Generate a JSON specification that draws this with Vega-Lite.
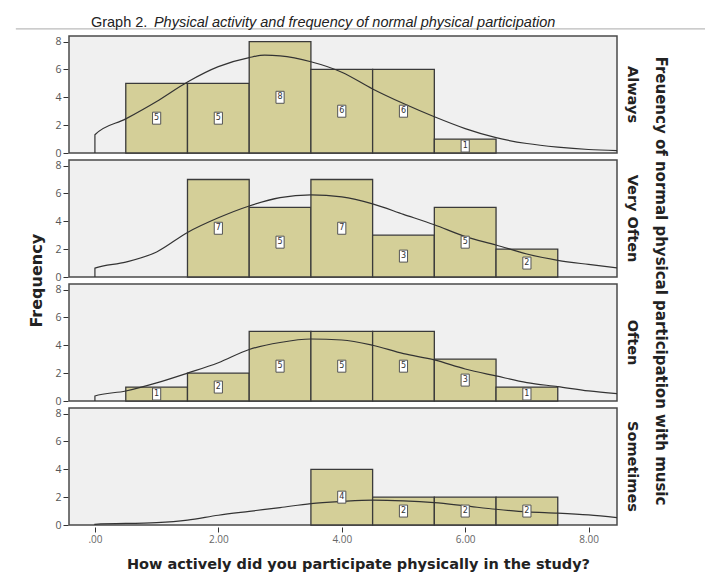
{
  "$schema": "https://vega.github.io/schema/vega-lite/v6.json",
  "background": "white",
  "padding": {"left": 15, "top": 5, "right": 5, "bottom": 5},
  "title": {"text": "Frequency", "orient": "left", "anchor": "middle", "font": "DejaVu Sans", "fontSize": 16, "fontWeight": "bold", "color": "#222", "offset": -30, "dx": 7},
  "config": {
    "view": {"fill": "#F0F0F0", "stroke": "#4a4a4a", "strokeWidth": 1.5},
    "font": "Open Sans",
    "axisY": {"tickCount": 5, "labelOverlap": false}
  },
  "spacing": 4,
  "datasets": {
    "main": [
      {"panel": "Always", "kind": "bar", "x": 1, "lo": 0.5, "hi": 1.5, "count": 5},
      {"panel": "Always", "kind": "bar", "x": 2, "lo": 1.5, "hi": 2.5, "count": 5},
      {"panel": "Always", "kind": "bar", "x": 3, "lo": 2.5, "hi": 3.5, "count": 8},
      {"panel": "Always", "kind": "bar", "x": 4, "lo": 3.5, "hi": 4.5, "count": 6},
      {"panel": "Always", "kind": "bar", "x": 5, "lo": 4.5, "hi": 5.5, "count": 6},
      {"panel": "Always", "kind": "bar", "x": 6, "lo": 5.5, "hi": 6.5, "count": 1},
      {"panel": "Very Often", "kind": "bar", "x": 2, "lo": 1.5, "hi": 2.5, "count": 7},
      {"panel": "Very Often", "kind": "bar", "x": 3, "lo": 2.5, "hi": 3.5, "count": 5},
      {"panel": "Very Often", "kind": "bar", "x": 4, "lo": 3.5, "hi": 4.5, "count": 7},
      {"panel": "Very Often", "kind": "bar", "x": 5, "lo": 4.5, "hi": 5.5, "count": 3},
      {"panel": "Very Often", "kind": "bar", "x": 6, "lo": 5.5, "hi": 6.5, "count": 5},
      {"panel": "Very Often", "kind": "bar", "x": 7, "lo": 6.5, "hi": 7.5, "count": 2},
      {"panel": "Often", "kind": "bar", "x": 1, "lo": 0.5, "hi": 1.5, "count": 1},
      {"panel": "Often", "kind": "bar", "x": 2, "lo": 1.5, "hi": 2.5, "count": 2},
      {"panel": "Often", "kind": "bar", "x": 3, "lo": 2.5, "hi": 3.5, "count": 5},
      {"panel": "Often", "kind": "bar", "x": 4, "lo": 3.5, "hi": 4.5, "count": 5},
      {"panel": "Often", "kind": "bar", "x": 5, "lo": 4.5, "hi": 5.5, "count": 5},
      {"panel": "Often", "kind": "bar", "x": 6, "lo": 5.5, "hi": 6.5, "count": 3},
      {"panel": "Often", "kind": "bar", "x": 7, "lo": 6.5, "hi": 7.5, "count": 1},
      {"panel": "Sometimes", "kind": "bar", "x": 4, "lo": 3.5, "hi": 4.5, "count": 4},
      {"panel": "Sometimes", "kind": "bar", "x": 5, "lo": 4.5, "hi": 5.5, "count": 2},
      {"panel": "Sometimes", "kind": "bar", "x": 6, "lo": 5.5, "hi": 6.5, "count": 2},
      {"panel": "Sometimes", "kind": "bar", "x": 7, "lo": 6.5, "hi": 7.5, "count": 2},

      {"panel": "Always", "kind": "curve", "x": 0, "y": 0},
      {"panel": "Always", "kind": "curve", "x": 0, "y": 1.31},
      {"panel": "Always", "kind": "curve", "x": 0.5, "y": 2.45},
      {"panel": "Always", "kind": "curve", "x": 1, "y": 3.7},
      {"panel": "Always", "kind": "curve", "x": 1.5, "y": 5.1},
      {"panel": "Always", "kind": "curve", "x": 2, "y": 6.2},
      {"panel": "Always", "kind": "curve", "x": 2.5, "y": 6.85},
      {"panel": "Always", "kind": "curve", "x": 2.75, "y": 7.02},
      {"panel": "Always", "kind": "curve", "x": 3, "y": 6.97},
      {"panel": "Always", "kind": "curve", "x": 3.5, "y": 6.55},
      {"panel": "Always", "kind": "curve", "x": 4, "y": 5.8},
      {"panel": "Always", "kind": "curve", "x": 4.5, "y": 4.6},
      {"panel": "Always", "kind": "curve", "x": 5, "y": 3.55},
      {"panel": "Always", "kind": "curve", "x": 5.5, "y": 2.6},
      {"panel": "Always", "kind": "curve", "x": 6, "y": 1.75},
      {"panel": "Always", "kind": "curve", "x": 6.5, "y": 1.1},
      {"panel": "Always", "kind": "curve", "x": 7, "y": 0.68},
      {"panel": "Always", "kind": "curve", "x": 7.5, "y": 0.42},
      {"panel": "Always", "kind": "curve", "x": 8, "y": 0.25},
      {"panel": "Always", "kind": "curve", "x": 8.46, "y": 0.17},

      {"panel": "Very Often", "kind": "curve", "x": 0, "y": 0},
      {"panel": "Very Often", "kind": "curve", "x": 0, "y": 0.64},
      {"panel": "Very Often", "kind": "curve", "x": 0.5, "y": 1.07},
      {"panel": "Very Often", "kind": "curve", "x": 1, "y": 1.8},
      {"panel": "Very Often", "kind": "curve", "x": 1.5, "y": 3.2},
      {"panel": "Very Often", "kind": "curve", "x": 2, "y": 4.25},
      {"panel": "Very Often", "kind": "curve", "x": 2.5, "y": 5.1},
      {"panel": "Very Often", "kind": "curve", "x": 3, "y": 5.7},
      {"panel": "Very Often", "kind": "curve", "x": 3.5, "y": 5.9},
      {"panel": "Very Often", "kind": "curve", "x": 4, "y": 5.75},
      {"panel": "Very Often", "kind": "curve", "x": 4.5, "y": 5.25},
      {"panel": "Very Often", "kind": "curve", "x": 5, "y": 4.5},
      {"panel": "Very Often", "kind": "curve", "x": 5.5, "y": 3.75},
      {"panel": "Very Often", "kind": "curve", "x": 6, "y": 2.9},
      {"panel": "Very Often", "kind": "curve", "x": 6.5, "y": 2.3},
      {"panel": "Very Often", "kind": "curve", "x": 7, "y": 1.65},
      {"panel": "Very Often", "kind": "curve", "x": 7.5, "y": 1.2},
      {"panel": "Very Often", "kind": "curve", "x": 8, "y": 0.9},
      {"panel": "Very Often", "kind": "curve", "x": 8.46, "y": 0.65},

      {"panel": "Often", "kind": "curve", "x": 0, "y": 0},
      {"panel": "Often", "kind": "curve", "x": 0, "y": 0.36},
      {"panel": "Often", "kind": "curve", "x": 0.5, "y": 0.72},
      {"panel": "Often", "kind": "curve", "x": 1, "y": 1.3},
      {"panel": "Often", "kind": "curve", "x": 1.5, "y": 2.0},
      {"panel": "Often", "kind": "curve", "x": 2, "y": 2.75},
      {"panel": "Often", "kind": "curve", "x": 2.5, "y": 3.7},
      {"panel": "Often", "kind": "curve", "x": 3, "y": 4.2},
      {"panel": "Often", "kind": "curve", "x": 3.5, "y": 4.45},
      {"panel": "Often", "kind": "curve", "x": 4, "y": 4.38},
      {"panel": "Often", "kind": "curve", "x": 4.5, "y": 4.0},
      {"panel": "Often", "kind": "curve", "x": 5, "y": 3.4},
      {"panel": "Often", "kind": "curve", "x": 5.5, "y": 2.95},
      {"panel": "Often", "kind": "curve", "x": 6, "y": 2.3},
      {"panel": "Often", "kind": "curve", "x": 6.5, "y": 1.8},
      {"panel": "Often", "kind": "curve", "x": 7, "y": 1.32},
      {"panel": "Often", "kind": "curve", "x": 7.5, "y": 1.03},
      {"panel": "Often", "kind": "curve", "x": 8, "y": 0.72},
      {"panel": "Often", "kind": "curve", "x": 8.46, "y": 0.53},

      {"panel": "Sometimes", "kind": "curve", "x": 0, "y": 0},
      {"panel": "Sometimes", "kind": "curve", "x": 0, "y": 0.05},
      {"panel": "Sometimes", "kind": "curve", "x": 1, "y": 0.17},
      {"panel": "Sometimes", "kind": "curve", "x": 1.5, "y": 0.35},
      {"panel": "Sometimes", "kind": "curve", "x": 2, "y": 0.7},
      {"panel": "Sometimes", "kind": "curve", "x": 2.5, "y": 0.98},
      {"panel": "Sometimes", "kind": "curve", "x": 3, "y": 1.25},
      {"panel": "Sometimes", "kind": "curve", "x": 3.5, "y": 1.54},
      {"panel": "Sometimes", "kind": "curve", "x": 4, "y": 1.69},
      {"panel": "Sometimes", "kind": "curve", "x": 4.5, "y": 1.78},
      {"panel": "Sometimes", "kind": "curve", "x": 5, "y": 1.73},
      {"panel": "Sometimes", "kind": "curve", "x": 5.5, "y": 1.6},
      {"panel": "Sometimes", "kind": "curve", "x": 6, "y": 1.37},
      {"panel": "Sometimes", "kind": "curve", "x": 6.5, "y": 1.13},
      {"panel": "Sometimes", "kind": "curve", "x": 7, "y": 0.94},
      {"panel": "Sometimes", "kind": "curve", "x": 7.5, "y": 0.85},
      {"panel": "Sometimes", "kind": "curve", "x": 8, "y": 0.72},
      {"panel": "Sometimes", "kind": "curve", "x": 8.46, "y": 0.53}
    ]
  },
  "vconcat": [
    {
      "width": 548,
      "height": 26,
      "view": {"fill": null, "stroke": null},
      "data": {"values": [{"a": 1}]},
      "layer": [
        {
          "mark": {"type": "rule", "color": "#aaaaaa", "strokeWidth": 1, "clip": false},
          "encoding": {
            "x": {"datum": -0.097, "type": "quantitative", "scale": {"domain": [0, 1], "nice": false, "zero": false}, "axis": null},
            "x2": {"datum": 1.165},
            "y": {"datum": 0.08, "type": "quantitative", "scale": {"domain": [0, 1], "nice": false}, "axis": null}
          }
        },
        {
          "mark": {"type": "text", "align": "left", "baseline": "alphabetic", "font": "Liberation Sans", "fontSize": 14.5, "color": "#222", "text": "Graph 2."},
          "encoding": {
            "x": {"datum": 0.04, "type": "quantitative"},
            "y": {"datum": 0.15, "type": "quantitative"}
          }
        },
        {
          "mark": {"type": "text", "align": "left", "baseline": "alphabetic", "font": "Liberation Sans", "fontSize": 14.5, "fontStyle": "italic", "color": "#222", "text": "Physical activity and frequency of normal physical participation"},
          "encoding": {
            "x": {"datum": 0.155, "type": "quantitative"},
            "y": {"datum": 0.15, "type": "quantitative"}
          }
        }
      ]
    },
    {
      "data": {"name": "main"},
      "transform": [{"calculate": "datum.count / 2", "as": "mid"}],
      "facet": {
        "row": {
          "field": "panel",
          "type": "nominal",
          "sort": ["Always", "Very Often", "Often", "Sometimes"],
          "header": {
            "title": "Freuency of normal physical participation with music",
            "titleOrient": "right",
            "titleAngle": 90,
            "titleFont": "DejaVu Sans",
            "titleFontSize": 15,
            "titleFontWeight": "bold",
            "titleColor": "#222",
            "titlePadding": 3,
            "labelOrient": "right",
            "labelAngle": 90,
            "labelFont": "DejaVu Sans",
            "labelFontSize": 14.5,
            "labelFontWeight": "bold",
            "labelColor": "#222",
            "labelPadding": 6
          }
        }
      },
      "spacing": 4,
      "spec": {
        "width": 548,
        "height": 117,
        "layer": [
          {
            "transform": [{"filter": "datum.kind == 'bar'"}],
            "mark": {"type": "bar", "fill": "#D4CF98", "stroke": "#3a3a3a", "strokeWidth": 1.3},
            "encoding": {
              "x": {
                "field": "lo", "type": "quantitative",
                "scale": {"domain": [-0.42, 8.46], "nice": false, "zero": false},
                "title": "How actively did you participate physically in the study?",
                "axis": {
                  "values": [0, 2, 4, 6, 8],
                  "labelExpr": "datum.value == 0 ? '.00' : format(datum.value, '.2f')",
                  "grid": false, "domain": false,
                  "tickColor": "#333", "tickSize": 5,
                  "labelColor": "#666", "labelFontSize": 10, "labelFont": "Open Sans",
                  "titleFont": "DejaVu Sans", "titleFontSize": 14.5, "titleFontWeight": "bold", "titleColor": "#222", "titlePadding": 13,
                  "titleX": 289
                }
              },
              "x2": {"field": "hi"},
              "y": {
                "field": "count", "type": "quantitative",
                "scale": {"domain": [0, 8.4], "nice": false},
                "axis": {
                  "title": null,
                  "values": [0, 2, 4, 6, 8],
                  "tickCount": 5,
                  "labelOverlap": false,
                  "grid": false, "domain": false,
                  "tickColor": "#333", "tickSize": 5,
                  "labelColor": "#555", "labelFontSize": 10.5, "labelFont": "Open Sans"
                }
              },
              "y2": {"datum": 0}
            }
          },
          {
            "transform": [{"filter": "datum.kind == 'curve'"}],
            "mark": {"type": "line", "stroke": "#333", "strokeWidth": 1.2, "interpolate": "monotone", "clip": true},
            "encoding": {
              "x": {"field": "x", "type": "quantitative", "title": "How actively did you participate physically in the study?"},
              "y": {"field": "y", "type": "quantitative", "axis": {"title": null, "values": [0, 2, 4, 6, 8], "tickCount": 5}}
            }
          },
          {
            "transform": [{"filter": "datum.kind == 'bar'"}],
            "mark": {"type": "point", "shape": "M-0.68,-1H0.68V1H-0.68Z", "size": 144, "filled": true, "fill": "white", "stroke": "#555", "strokeWidth": 1, "opacity": 1},
            "encoding": {
              "x": {"field": "x", "type": "quantitative"},
              "y": {"field": "mid", "type": "quantitative", "axis": {"title": null, "values": [0, 2, 4, 6, 8], "tickCount": 5}}
            }
          },
          {
            "transform": [{"filter": "datum.kind == 'bar'"}],
            "mark": {"type": "text", "fontSize": 8, "color": "#333", "font": "DejaVu Sans", "baseline": "middle"},
            "encoding": {
              "x": {"field": "x", "type": "quantitative"},
              "y": {"field": "mid", "type": "quantitative", "axis": {"title": null, "values": [0, 2, 4, 6, 8], "tickCount": 5}},
              "text": {"field": "count", "type": "quantitative"}
            }
          }
        ]
      }
    }
  ]
}
